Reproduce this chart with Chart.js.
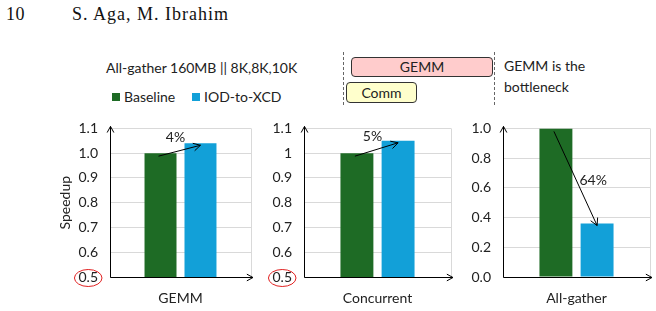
<!DOCTYPE html>
<html><head><meta charset="utf-8">
<script src="https://cdn.jsdelivr.net/npm/chart.js@4.4.1/dist/chart.umd.min.js"></script>
<style>
html,body{margin:0;padding:0;background:#fff;}
#root{position:relative;width:656px;height:311px;overflow:hidden;font-family:Lato,'Liberation Sans',sans-serif;color:#222;}
.abs{position:absolute;white-space:nowrap;line-height:1;}
canvas{position:absolute;}
.sq{position:absolute;width:8px;height:8px;}
.box{position:absolute;box-sizing:border-box;border:1px solid #333;border-radius:4px;text-align:center;font-size:14px;}
.dash{position:absolute;width:0;border-left:1px dashed #666;}
</style></head><body>
<div id="root">
  <div class="abs" style="left:6px;top:4px;font:18px 'Liberation Serif',serif;color:#111;letter-spacing:0.5px">10</div>
  <div class="abs" style="left:72px;top:4px;font:18px 'Liberation Serif',serif;color:#111;letter-spacing:1px">S. Aga, M. Ibrahim</div>
  <div class="abs" id="ttl" style="left:106px;top:61px;font-size:14px"></div>
  <div class="sq" id="sq0" style="left:112px;top:93px"></div>
  <div class="abs" id="lg0" style="left:124px;top:90px;font-size:14px"></div>
  <div class="sq" id="sq1" style="left:192px;top:93px"></div>
  <div class="abs" id="lg1" style="left:204px;top:90px;font-size:14px"></div>

  <div class="dash" style="left:343px;top:52px;height:53px"></div>
  <div class="dash" style="left:494px;top:52px;height:53px"></div>
  <div class="box" style="left:351px;top:57px;width:142px;height:20px;line-height:18px;background:#ffcccc">GEMM</div>
  <div class="box" style="left:346px;top:82px;width:71px;height:21px;line-height:19px;background:#ffffcc">Comm</div>
  <div class="abs" style="left:504px;top:59px;font-size:14px">GEMM is the</div>
  <div class="abs" style="left:504px;top:80px;font-size:14px">bottleneck</div>

  <canvas id="c0" width="210" height="203" style="left:45px;top:108px"></canvas>
  <canvas id="c1" width="200" height="203" style="left:255px;top:108px"></canvas>
  <canvas id="c2" width="200" height="203" style="left:455px;top:108px"></canvas>
</div>
<script>
// ---- data ----
const chartTitle = "All-gather 160MB || 8K,8K,10K";
const seriesNames = ["Baseline", "IOD-to-XCD"];
const categories = ["GEMM", "Concurrent", "All-gather"];
const baseline = [1.0, 1.0, 1.0];
const iodToXcd = [1.04, 1.05, 0.36];
const tickLabelsGemm = ["0.5","0.6","0.7","0.8","0.9","1.0","1.1"];
const tickLabelsConc = ["0.5","0.6","0.7","0.8","0.9","1","1.1"];
const tickLabelsAg = ["0.0","0.2","0.4","0.6","0.8","1.0"];
const yTitle = "Speedup";

const colors = ["#1e6b25", "#12a0d8"];
const FONT = "Lato, 'Liberation Sans', sans-serif";

document.getElementById('ttl').textContent = chartTitle;
document.getElementById('lg0').textContent = seriesNames[0];
document.getElementById('lg1').textContent = seriesNames[1];
document.getElementById('sq0').style.background = colors[0];
document.getElementById('sq1').style.background = colors[1];

function head(ctx, x, y, ang, len){
  const a1 = ang + Math.PI - 0.5, a2 = ang + Math.PI + 0.5;
  ctx.beginPath();
  ctx.moveTo(x + len*Math.cos(a1), y + len*Math.sin(a1));
  ctx.lineTo(x, y);
  ctx.lineTo(x + len*Math.cos(a2), y + len*Math.sin(a2));
  ctx.stroke();
}

const decor = {
  id: 'decor',
  afterDraw(chart, args, o){
    const ctx = chart.ctx, a = chart.chartArea, y = chart.scales.y;
    ctx.save();
    ctx.lineWidth = 1;
    ctx.strokeStyle = '#d9d9d9';
    ctx.beginPath(); ctx.moveTo(Math.round(a.right)+0.5, a.top); ctx.lineTo(Math.round(a.right)+0.5, a.bottom); ctx.stroke();
    ctx.strokeStyle = '#000';
    const x0 = Math.round(a.left)+0.5, y0 = Math.round(a.bottom)+0.5;
    ctx.beginPath(); ctx.moveTo(x0, y0); ctx.lineTo(x0, a.top-2); ctx.moveTo(x0, y0); ctx.lineTo(a.right+2, y0); ctx.stroke();
    head(ctx, x0, a.top-2, -Math.PI/2, 7);
    head(ctx, a.right+2, y0, 0, 7);
    // change arrow
    const m0 = chart.getDatasetMeta(0).data[0], m1 = chart.getDatasetMeta(1).data[0];
    const v0 = chart.data.datasets[0].data[0], v1 = chart.data.datasets[1].data[0];
    const sx = m0.x - 2, sy = y.getPixelForValue(Math.min(v0, y.max)) + 3;
    const ex = m1.x, ey = y.getPixelForValue(v1) + 2;
    ctx.beginPath(); ctx.moveTo(sx, sy); ctx.lineTo(ex, ey); ctx.stroke();
    head(ctx, ex, ey, Math.atan2(ey-sy, ex-sx), 8);
    const pct = Math.round(Math.abs(v1/v0 - 1)*100) + '%';
    ctx.fillStyle = '#222';
    ctx.font = '14px ' + FONT;
    ctx.textBaseline = 'middle';
    const mx = (sx+ex)/2, my = (sy+ey)/2;
    if (o.labelSide === 'right') { ctx.textAlign = 'left'; ctx.fillText(pct, mx + 4, my + 2); }
    else { ctx.textAlign = 'center'; ctx.fillText(pct, mx - 4, my - 13); }
    // red circle around min tick label
    if (o.circle) {
      ctx.font = '14px ' + FONT;
      const lbl = o.circle;
      const w = ctx.measureText(lbl).width;
      const cx = a.left - 12 - w/2, cy = y.getPixelForValue(y.min) + 1;
      ctx.strokeStyle = '#e02020';
      ctx.beginPath(); ctx.ellipse(cx, cy, w/2 + 4, 8.5, 0, 0, Math.PI*2); ctx.stroke();
    }
    ctx.restore();
  }
};

function makeChart(id, i, opt){
  return new Chart(document.getElementById(id), {
    type: 'bar',
    data: {
      labels: [categories[i]],
      datasets: [
        { label: seriesNames[0], data: [baseline[i]], backgroundColor: colors[0], barPercentage: 0.8, categoryPercentage: opt.cat },
        { label: seriesNames[1], data: [iodToXcd[i]], backgroundColor: colors[1], barPercentage: 0.8, categoryPercentage: opt.cat }
      ]
    },
    options: {
      responsive: false, animation: false, devicePixelRatio: 1,
      layout: { padding: { top: 0, right: opt.right, left: 0, bottom: 0 } },
      plugins: { legend: { display: false }, tooltip: { enabled: false }, decor: { labelSide: opt.side, circle: opt.circle } },
      scales: {
        x: {
          grid: { display: false }, border: { display: false },
          ticks: { color: '#222', font: { family: FONT, size: 14 }, padding: 5 },
          afterFit(s){ s.height = 34; }
        },
        y: {
          min: opt.min, max: opt.max,
          afterBuildTicks(s){ s.ticks = opt.labels.map((_, k) => ({ value: opt.min + k*opt.step })); },
          grid: { color: '#d9d9d9', drawTicks: false }, border: { display: false },
          ticks: { color: '#222', font: { family: FONT, size: 14 }, padding: 12, callback: (v, k) => opt.labels[k] },
          title: opt.title ? { display: true, text: yTitle, color: '#222', font: { family: FONT, size: 14 }, padding: { top: 12, bottom: 0 } } : { display: false },
          afterFit(s){ s.width = opt.yw; }
        }
      }
    },
    plugins: [decor]
  });
}

makeChart('c0', 0, { cat: 0.567, right: 4, min: 0.5, max: 1.1, step: 0.1, labels: tickLabelsGemm, yw: 65, title: true, side: 'above', circle: tickLabelsGemm[0] });
makeChart('c1', 1, { cat: 0.56, right: 4, min: 0.5, max: 1.1, step: 0.1, labels: tickLabelsConc, yw: 49, title: false, side: 'above', circle: tickLabelsConc[0] });
makeChart('c2', 2, { cat: 0.56, right: 5, min: 0.0, max: 1.0, step: 0.2, labels: tickLabelsAg, yw: 48, title: false, side: 'right', circle: null });
</script>
</body></html>
